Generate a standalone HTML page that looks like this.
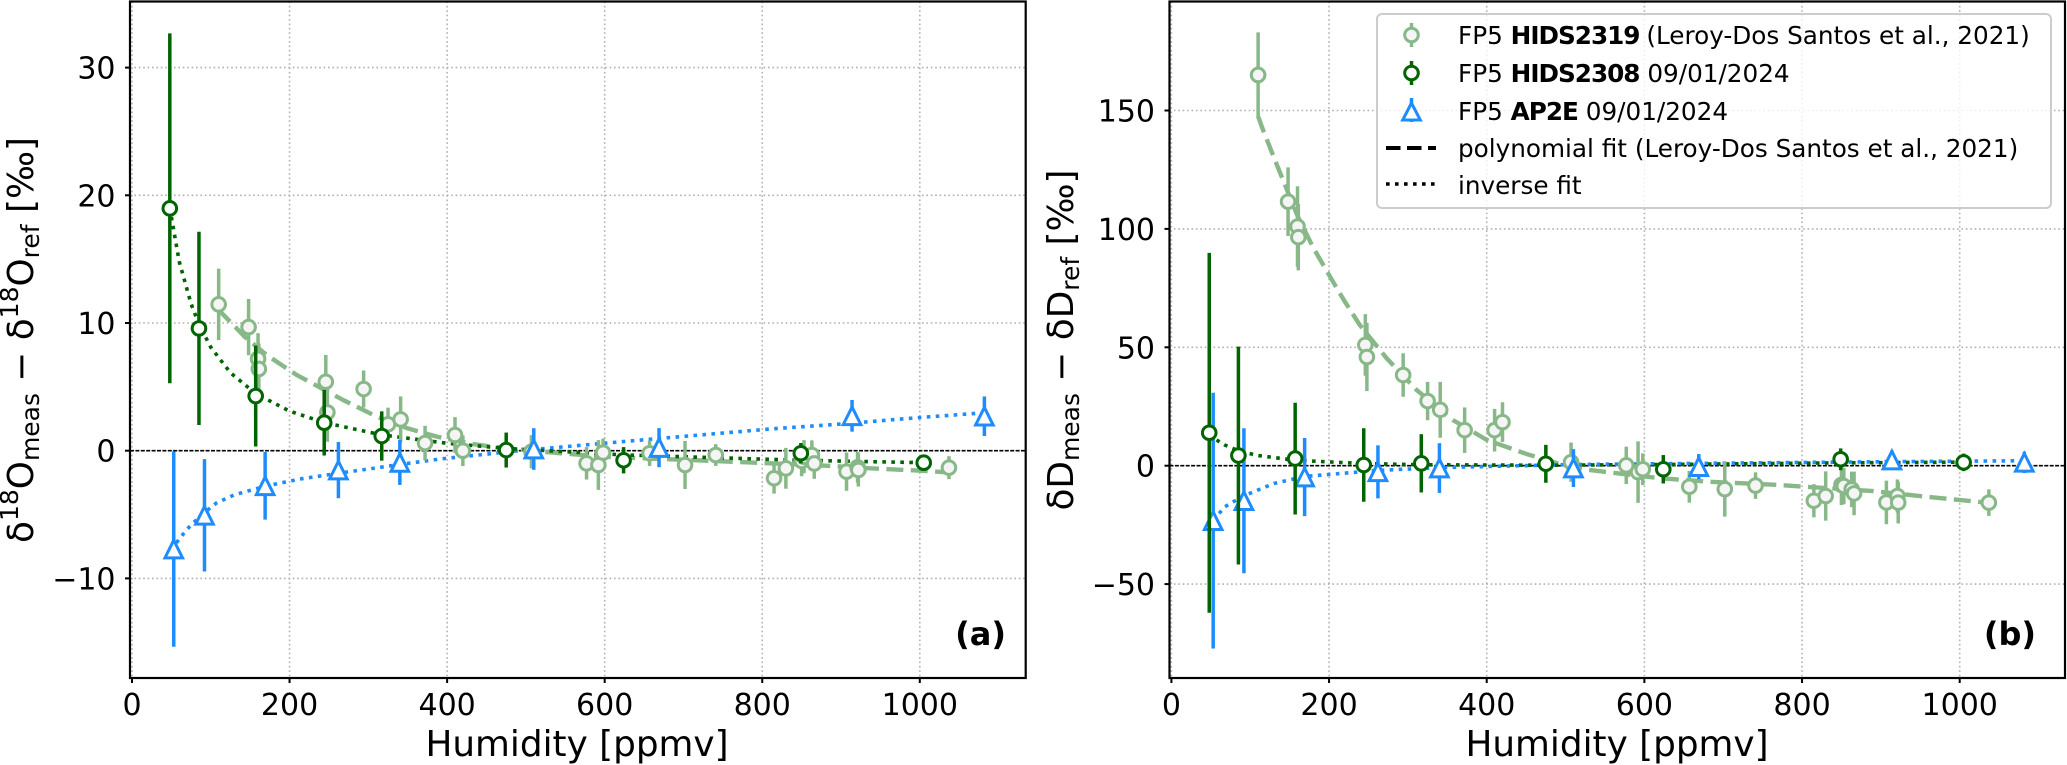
<!DOCTYPE html>
<html lang="en">
<head>
<meta charset="utf-8">
<title>Humidity dependence of isotopic measurements</title>
<style>
html,body{margin:0;padding:0;background:#fff;width:2067px;height:765px;overflow:hidden}
svg{display:block}
text{font-family:"DejaVu Sans","Liberation Sans",sans-serif;fill:#000;white-space:pre}
</style>
</head>
<body>
<svg id="chart" width="2067" height="765" viewBox="0 0 2067 765" xmlns="http://www.w3.org/2000/svg">
  <rect width="2067" height="765" fill="#fff"/>
  <g id="panel-a"></g>
  <g id="panel-b"></g>

  <text x="577" y="756" font-size="35.8" text-anchor="middle">Humidity [ppmv]</text>
  <text x="1617" y="756" font-size="35.8" text-anchor="middle">Humidity [ppmv]</text>

  <text transform="translate(33,340) rotate(-90)" font-size="35.8" text-anchor="middle">δ<tspan font-size="25" dy="-15">18</tspan><tspan dy="15">O</tspan><tspan font-size="25" dy="6">meas</tspan><tspan dy="-6"> − δ</tspan><tspan font-size="25" dy="-15">18</tspan><tspan dy="15">O</tspan><tspan font-size="25" dy="6">ref</tspan><tspan dy="-6"> [‰]</tspan></text>
  <text transform="translate(1073,340) rotate(-90)" font-size="35.8" text-anchor="middle">δD<tspan font-size="25" dy="6">meas</tspan><tspan dy="-6"> − δD</tspan><tspan font-size="25" dy="6">ref</tspan><tspan dy="-6"> [‰]</tspan></text>

  <text x="1006" y="645" font-size="32" font-weight="bold" text-anchor="end">(a)</text>
  <text x="2036" y="645" font-size="32" font-weight="bold" text-anchor="end">(b)</text>

  <g>
    <rect x="1377" y="14" width="674" height="194" rx="5" fill="#fff" fill-opacity="0.8" stroke="#cccccc" stroke-width="2"/>
    <g>
      <line x1="1411.5" x2="1411.5" y1="23" y2="47" stroke="#88b888" stroke-width="3.5"/>
      <circle cx="1411.5" cy="35" r="6.8" fill="#f5f5f5" stroke="#88b888" stroke-width="3"/>
      <text x="1458" y="44" font-size="24.7">FP5 <tspan font-weight="bold" letter-spacing="-1">HIDS2319</tspan><tspan dx="-1"> (Leroy-Dos Santos et al., 2021)</tspan></text>
    </g>
    <g>
      <line x1="1411.5" x2="1411.5" y1="61" y2="85" stroke="#006400" stroke-width="3.5"/>
      <circle cx="1411.5" cy="73" r="6.8" fill="#fff" stroke="#006400" stroke-width="3"/>
      <text x="1458" y="82" font-size="24.7">FP5 <tspan font-weight="bold" letter-spacing="-1">HIDS2308</tspan> 09/01/2024</text>
    </g>
    <g>
      <line x1="1411.5" x2="1411.5" y1="98" y2="122" stroke="#1e8cff" stroke-width="3.5"/>
      <polygon points="1411.5,103 1402.7,120 1420.3,120" fill="#fff" stroke="#1e8cff" stroke-width="3"/>
      <text x="1458" y="120" font-size="24.7">FP5 <tspan font-weight="bold" letter-spacing="-1">AP2E</tspan> 09/01/2024</text>
    </g>
    <g>
      <line x1="1386" x2="1436" y1="148" y2="148" stroke="#000" stroke-width="4" stroke-dasharray="14.5 6.5"/>
      <text x="1458" y="157" font-size="24.7">polynomial fit (Leroy-Dos Santos et al., 2021)</text>
    </g>
    <g>
      <line x1="1386" x2="1436" y1="184" y2="184" stroke="#000" stroke-width="3.6" stroke-dasharray="3.6 5.4"/>
      <text x="1458" y="194" font-size="24.7">inverse fit</text>
    </g>
  </g>
</svg>

<script>
// ---- axis tick values ----
const humidityTicks = [0, 200, 400, 600, 800, 1000];
const d18OTicks = [30, 20, 10, 0, -10];
const dDTicks = [150, 100, 50, 0, -50];

// ---- FP5 HIDS2319 (Leroy-Dos Santos et al., 2021) ----
const lightHumidity = [110,148,160,161,246,248,294,325,341,372,410,420,507,577,592,598,657,702,741,815,830,850,853,863,866,907,921,922,1037];
const lightD18O = [11.46,9.68,7.2,6.4,5.4,3.0,4.83,2.07,2.45,0.6,1.23,0,-0.08,-0.99,-1.12,-0.15,-0.2,-1.12,-0.34,-2.16,-1.38,-0.8,-0.47,-0.34,-1,-1.64,-1.3,-1.51,-1.33];
const lightD18OErr = [2.8,2.2,2.0,2.0,2.1,2.3,1.45,1.3,1.8,1.35,1.4,1.2,1.3,1.27,1.95,1.1,1.0,1.88,0.85,1.2,1.6,1.2,1.3,1.15,1.2,1.5,1.2,1.3,0.9];
const lightDD = [165,111.5,101,96.5,51,45.9,38.3,27.3,23.6,15,15,18.4,1.5,0.15,-2.7,-1.5,-8.9,-9.9,-8.4,-14.8,-12.8,-8.1,-8.6,-10,-11.7,-15.5,-12.8,-15.6,-15.6];
const lightDDErr = [18,14.5,17,14,13,14.4,9.2,8.1,11.8,9.6,9,8.4,8.3,7.9,13,6.7,6.7,11.6,5.6,7,10.4,8.5,7.7,7.5,9.2,9.2,7,8.8,5.6];

// ---- FP5 HIDS2308 09/01/2024 ----
const darkHumidity = [48,85,157,244,317,475,624,849,1005];
const darkD18O = [18.98,9.58,4.28,2.19,1.15,0.05,-0.75,-0.2,-0.94];
const darkD18OErr = [13.7,7.57,3.95,2.57,1.93,1.37,1.03,0.8,0.6];
const darkDD = [13.9,4.3,3,0.3,1,0.8,-1.5,2.7,1.4];
const darkDDErr = [76,46,23.6,15.5,12.3,8,6,4.6,3.7];

// ---- FP5 AP2E 09/01/2024 ----
const blueHumidity = [53,92,169,262,340,510,669,914,1082];
const blueD18O = [-7.7,-5.06,-2.75,-1.52,-0.92,0.13,0.24,2.73,2.7];
const blueD18OErr = [7.65,4.4,2.65,2.2,1.76,1.63,1.53,1.24,1.55];
const blueDD = [-23.2,-14.8,-4.8,-2.6,-1,-1,-0.4,2.4,1.4];
const blueDDErr = [54,30.6,16.5,11.2,10.5,8,5.3,4,4.5];

// ---- fit curves ----
const lightFitAX = [110,114,143,171,209,268,311,349,387,433,463,534,598,708,780,890,937,1009,1037];
const lightFitAY = [11.1,10.77,8.93,7.49,5.93,3.97,2.66,1.77,1.1,0.52,0.27,-0.15,-0.47,-0.73,-0.91,-1.2,-1.38,-1.59,-1.7];
const darkFitAX = [48,60,75,85,100,125,157,200,244,317,400,475,624,850,1005];
const darkFitAY = [19,14.8,11.5,9.9,8.1,6.1,4.47,3.1,2.2,1.24,0.58,0.18,-0.33,-0.75,-0.94];
const blueFitAX = [50,60,75,92,107,130,171,215,264,353,391,492,632,810,902,1000,1082];
const blueFitAY = [-7.8,-6.9,-5.8,-4.85,-4.1,-3.45,-2.75,-2.2,-1.75,-0.97,-0.65,0,0.76,1.7,2.1,2.6,2.97];
const lightFitBX = [110,116,133,160,180,205,220,239,273,311,357,400,450,500,522,620,683,768,823,890,958,1022,1037];
const lightFitBY = [147.5,142,127.7,105.5,92,77.7,69.3,59.4,45.4,32,19.3,10.9,5,0,-1.5,-5.3,-6.8,-8.1,-9.3,-10.7,-13.1,-15.2,-15.8];
const darkFitBX = [49,57,68,85,110,157,244,317,475,624,850,1005];
const darkFitBY = [13.5,10.9,8.7,6.3,4.3,2.3,0.9,0.4,0.2,0.5,1.2,1.5];
const blueFitBX = [53,68,90,130,170,262,340,510,669,914,1082];
const blueFitBY = [-23,-17.3,-13,-7.5,-4.5,-2,-0.8,0.5,1,1.7,2.1];

const SVGNS = 'http://www.w3.org/2000/svg';
const LIGHT = '#88b888', DARK = '#006400', BLUE = '#1e8cff';
const DOT = [3.6, 5.4], DASH = [17, 7.4];

function make(parent, tag, attrs) {
  const el = document.createElementNS(SVGNS, tag);
  for (const k in attrs) el.setAttribute(k, attrs[k]);
  parent.appendChild(el);
  return el;
}

function drawPanel(root, box, xs, ys, yTicks, series) {
  const gridG = make(root, 'g', {});
  
  

  humidityTicks.forEach(function (t) {
    const gl = make(gridG, 'line', {x1: xs(t), x2: xs(t), y1: box.top, y2: box.bottom, stroke: '#b0b0b0', 'stroke-width': 1.6, 'stroke-dasharray': '1.6 2.8'});
    
    
  });
  yTicks.forEach(function (t) {
    if (t === 0) return;
    const gl = make(gridG, 'line', {x1: box.left, x2: box.right, y1: ys(t), y2: ys(t), stroke: '#b0b0b0', 'stroke-width': 1.6, 'stroke-dasharray': '1.6 2.8'});
    
    
  });

  const zero = make(root, 'line', {x1: box.left, x2: box.right, y1: ys(0), y2: ys(0), stroke: '#000', 'stroke-width': 1.6, 'stroke-dasharray': '4 1.4'});
  
  

  series.forEach(function (s) {
    const pts = s.fitX.map(function (x, i) { return xs(x).toFixed(2) + ',' + ys(s.fitY[i]).toFixed(2); }).join(' ');
    const fit = make(root, 'polyline', {points: pts, fill: 'none', stroke: s.color, 'stroke-width': s.fitWidth, 'stroke-dasharray': s.fitDash.join(' '), 'stroke-linejoin': 'round'});
    
    
  });

  series.forEach(function (s) {
    const g = make(root, 'g', {});
    
    
    s.x.forEach(function (xv, i) {
      const cx = xs(xv);
      const bar = make(g, 'line', {x1: cx, x2: cx, y1: ys(s.y[i] + s.err[i]), y2: ys(s.y[i] - s.err[i]), stroke: s.color, 'stroke-width': 3.5});
      
      
    });
    s.x.forEach(function (xv, i) {
      const cx = xs(xv), cy = ys(s.y[i]);
      let mark;
      if (s.marker === 'circle') {
        mark = make(g, 'circle', {cx: cx, cy: cy, r: 6.8, fill: s.face, stroke: s.color, 'stroke-width': 3});
      } else {
        const r = 8.8;
        const p = cx + ',' + (cy - r) + ' ' + (cx - r) + ',' + (cy + r) + ' ' + (cx + r) + ',' + (cy + r);
        mark = make(g, 'polygon', {points: p, fill: s.face, stroke: s.color, 'stroke-width': 3});
      }
      
      
    });
  });

  const frame = make(root, 'rect', {x: box.left, y: box.top, width: box.right - box.left, height: box.bottom - box.top, fill: 'none', stroke: '#000', 'stroke-width': 2.2});
  
  

  humidityTicks.forEach(function (t) {
    const tk = make(root, 'line', {x1: xs(t), x2: xs(t), y1: box.bottom, y2: box.bottom + 5, stroke: '#000', 'stroke-width': 2});
    
    
    const lb = make(root, 'text', {x: xs(t), y: 715, 'font-size': 30, 'text-anchor': 'middle'});
    lb.textContent = String(t);
    
    
  });
  yTicks.forEach(function (t) {
    const tk = make(root, 'line', {x1: box.left - 5, x2: box.left, y1: ys(t), y2: ys(t), stroke: '#000', 'stroke-width': 2});
    
    
    const lb = make(root, 'text', {x: box.left - 14.5, y: ys(t) + 11, 'font-size': 30, 'text-anchor': 'end'});
    lb.textContent = String(t).replace('-', '\u2212');
    
    
  });
}

function xA(v) { return 132 + 0.7878 * v; }
function yA(v) { return 450.7 - 12.77 * v; }
function xB(v) { return 1171.4 + 0.7883 * v; }
function yB(v) { return 465.7 - 2.368 * v; }

drawPanel(document.getElementById('panel-a'), {left: 130, right: 1025.7, top: 1.5, bottom: 678}, xA, yA, d18OTicks, [
  {name: 'hids2319', color: LIGHT, face: '#f5f5f5', marker: 'circle', x: lightHumidity, y: lightD18O, err: lightD18OErr, fitX: lightFitAX, fitY: lightFitAY, fitDash: DASH, fitWidth: 4.4},
  {name: 'ap2e', color: BLUE, face: '#fff', marker: 'triangle', x: blueHumidity, y: blueD18O, err: blueD18OErr, fitX: blueFitAX, fitY: blueFitAY, fitDash: DOT, fitWidth: 3.6},
  {name: 'hids2308', color: DARK, face: '#fff', marker: 'circle', x: darkHumidity, y: darkD18O, err: darkD18OErr, fitX: darkFitAX, fitY: darkFitAY, fitDash: DOT, fitWidth: 3.6}
]);

drawPanel(document.getElementById('panel-b'), {left: 1169.5, right: 2065, top: 1.5, bottom: 678}, xB, yB, dDTicks, [
  {name: 'hids2319', color: LIGHT, face: '#f5f5f5', marker: 'circle', x: lightHumidity, y: lightDD, err: lightDDErr, fitX: lightFitBX, fitY: lightFitBY, fitDash: DASH, fitWidth: 4.4},
  {name: 'ap2e', color: BLUE, face: '#fff', marker: 'triangle', x: blueHumidity, y: blueDD, err: blueDDErr, fitX: blueFitBX, fitY: blueFitBY, fitDash: DOT, fitWidth: 3.6},
  {name: 'hids2308', color: DARK, face: '#fff', marker: 'circle', x: darkHumidity, y: darkDD, err: darkDDErr, fitX: darkFitBX, fitY: darkFitBY, fitDash: DOT, fitWidth: 3.6}
]);
</script>
</body>
</html>
